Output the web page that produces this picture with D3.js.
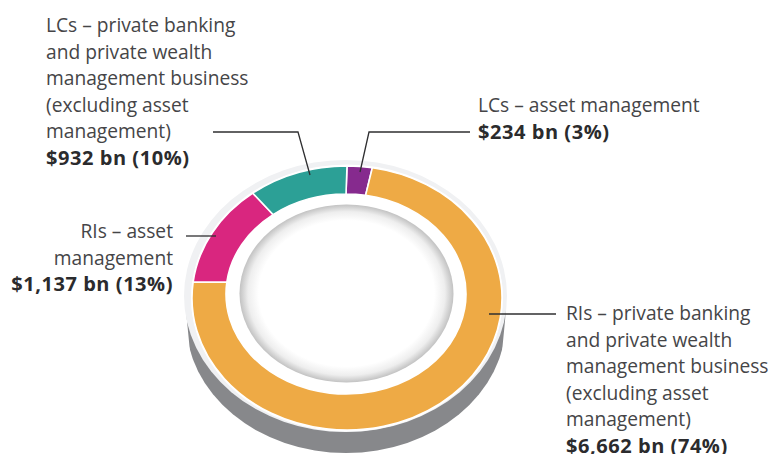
<!DOCTYPE html>
<html><head><meta charset="utf-8">
<script src="https://cdn.jsdelivr.net/npm/d3@7"></script>
<style>
html,body{margin:0;padding:0;background:#fff}
svg{display:block}
text{font-family:"Open Sans","Noto Sans",sans-serif;font-size:19.2px;font-weight:400;fill:#454547}
.b{font-weight:700;fill:#2b2b2d;font-size:20px;letter-spacing:.55px}
</style></head><body>
<div id="chart"></div>
<script>
const categories=["LCs – asset management","RIs – private banking and private wealth management business (excluding asset management)","RIs – asset management","LCs – private banking and private wealth management business (excluding asset management)"];
const values=[234,6662,1137,932];
const colors=["#862a8e","#eeaa45","#d9267f","#2ca096"];
const labelLines=[
 ["LCs – asset management"],
 ["RIs – private banking","and private wealth","management business","(excluding asset","management)"],
 ["RIs – asset","management"],
 ["LCs – private banking","and private wealth","management business","(excluding asset","management)"]];
const valueLabels=["$234 bn (3%)","$6,662 bn (74%)","$1,137 bn (13%)","$932 bn (10%)"];

const W=771,H=454;
const svg=d3.select("#chart").append("svg").attr("width",W).attr("height",H);
const defs=svg.append("defs");
const grad=defs.append("radialGradient").attr("id","well");
[[0,"#fff"],[0.82,"#fff"],[0.92,"#eeeeee"],[1,"#c2c2c2"]].forEach(s=>grad.append("stop").attr("offset",s[0]).attr("stop-color",s[1]));
defs.append("clipPath").attr("id","side").append("path").attr("d","M184,290L190.5,357V460H501.5V357L508,290Z");

const outer={cx:347,cy:298,rx:155,ry:132};
const inner={cx:346,cy:294,rx:120,ry:100};
const pt=(e,a)=>[e.cx+e.rx*Math.sin(a),e.cy-e.ry*Math.cos(a)];

// base
svg.append("ellipse").attr("cx",346).attr("cy",321).attr("rx",160).attr("ry",132).attr("fill","#87888b").attr("clip-path","url(#side)");
svg.append("ellipse").attr("cx",345.5).attr("cy",296).attr("rx",161.5).attr("ry",136).attr("fill","#f0f1f3");
svg.append("ellipse").attr("cx",347).attr("cy",298).attr("rx",156).attr("ry",133.5).attr("fill","#fff");

const pie=d3.pie().sort(null).value(d=>d);
const arcs=pie(values);
function seg(d){
 const [x0,y0]=pt(outer,d.startAngle),[x1,y1]=pt(outer,d.endAngle),[x2,y2]=pt(inner,d.endAngle),[x3,y3]=pt(inner,d.startAngle);
 const l=d.endAngle-d.startAngle>Math.PI?1:0;
 return `M${x0},${y0}A${outer.rx},${outer.ry} 0 ${l} 1 ${x1},${y1}L${x2},${y2}A${inner.rx},${inner.ry} 0 ${l} 0 ${x3},${y3}Z`;
}
svg.selectAll("path.seg").data(arcs).join("path").attr("class","seg").attr("d",seg)
 .attr("fill",(d,i)=>colors[i]).attr("stroke","#fff").attr("stroke-width",1.6);

svg.append("ellipse").attr("cx",346.5).attr("cy",293.5).attr("rx",107).attr("ry",89).attr("fill","url(#well)");

// leaders
const leaders=[
 [[360,172],[369,132],[470,132]],
 [[489,314],[556,314]],
 [[186,236],[216,236]],
 [[213,132],[298,132],[310,175]]];
svg.selectAll("path.lead").data(leaders).join("path").attr("class","lead")
 .attr("d",d3.line()).attr("fill","none").attr("stroke","#2f2f31").attr("stroke-width",1.3);

// labels
const place=[{x:478,y:112,a:"start"},{x:566,y:320,a:"start"},{x:173,y:238,a:"end"},{x:46,y:32,a:"start"}];
const LH=26.5;
place.forEach((p,i)=>{
 const t=svg.append("text").attr("text-anchor",p.a);
 const lines=labelLines[i];
 lines.forEach((s,j)=>t.append("tspan").attr("x",p.x).attr("y",p.y+j*LH).text(s));
 t.append("tspan").attr("class","b").attr("x",p.x).attr("y",p.y+lines.length*LH).text(valueLabels[i]);
});
</script></body></html>
